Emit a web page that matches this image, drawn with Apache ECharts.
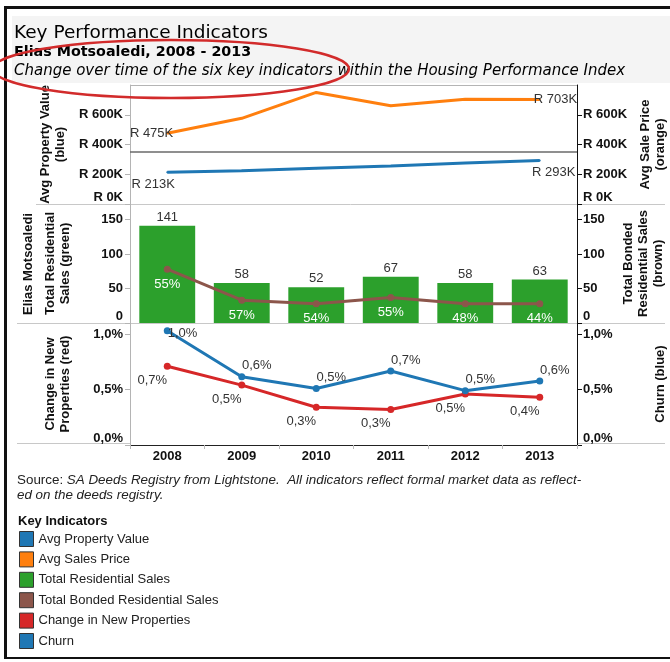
<!DOCTYPE html>
<html>
<head>
<meta charset="utf-8">
<script src="https://cdn.jsdelivr.net/npm/echarts@6/dist/echarts.min.js"></script>
<style>
  html, body { margin: 0; padding: 0; background: #fff; }
  #kpi { width: 670px; height: 662px; }
</style>
</head>
<body>
<div id="kpi"></div>
<script>
// Données
const years = ['2008', '2009', '2010', '2011', '2012', '2013'];
const avgPropertyValue = [213000, 224000, 240000, 255000, 276000, 293000];
const avgSalesPrice = [475000, 576000, 750000, 660000, 704000, 703000];
const totalSales = [141, 58, 52, 67, 58, 63];
const bondedSales = [78, 33, 28, 37, 28, 28];
const bondedShare = [55, 57, 54, 55, 48, 44];
const newPropertiesChange = [0.71, 0.54, 0.34, 0.32, 0.46, 0.43];
const churn = [1.03, 0.615, 0.51, 0.667, 0.49, 0.577];
const legendNames = ['Avg Property Value', 'Avg Sales Price', 'Total Residential Sales',
  'Total Bonded Residential Sales', 'Change in New Properties', 'Churn'];

const FONT = 'Liberation Sans, Arial, sans-serif';
const HEAD = 'DejaVu Sans, sans-serif';
const last = years.length - 1;

const money = v => 'R ' + Math.round(v / 1000) + 'K';
const pct = v => v.toFixed(1).replace('.', ',') + '%';

const chart = echarts.init(document.getElementById('kpi'), null, { renderer: 'canvas' });

// axe Y commun
function yAxis(grid, side, min, max, interval, fmt, name, gap, hideMax) {
  const right = side === 'right';
  return {
    type: 'value', gridIndex: grid, position: side, min: min, max: max, interval: interval,
    splitLine: { show: false },
    axisLine: { show: true, lineStyle: { color: right ? '#111' : '#b4b4b4', width: 1 } },
    axisTick: { show: true, length: 5, lineStyle: { color: right ? '#111' : '#b4b4b4' } },
    axisLabel: {
      fontFamily: FONT, fontSize: 13, fontWeight: 'bold', color: '#111',
      margin: right ? 6 : 7,
      showMaxLabel: !hideMax,
      verticalAlignMinLabel: 'bottom',
      formatter: v => (Math.abs(v / interval - Math.round(v / interval)) < 1e-6 ? fmt(v) : '')
    },
    name: name, nameLocation: 'middle', nameRotate: 90, nameGap: gap,
    nameTextStyle: { fontFamily: FONT, fontSize: 13, fontWeight: 'bold', color: '#111', lineHeight: 15 }
  };
}

function xAxis(grid, shown) {
  return {
    type: 'category', gridIndex: grid, data: years, boundaryGap: true,
    axisLine: { show: shown, lineStyle: { color: '#222' } },
    axisTick: { show: shown, length: 4, lineStyle: { color: '#bbb' } },
    axisLabel: { show: shown, fontFamily: FONT, fontSize: 13, fontWeight: 'bold', color: '#111', margin: 5 }
  };
}

const lbl = { fontFamily: FONT, fontSize: 13, color: '#333' };

const option = {
  animation: false,
  backgroundColor: '#fff',
  grid: [
    { left: 130, right: 93, top: 85, height: 119, outerBoundsMode: 'none', containLabel: false },
    { left: 130, right: 93, top: 204, height: 119, outerBoundsMode: 'none', containLabel: false },
    { left: 130, right: 93, top: 323, height: 122, outerBoundsMode: 'none', containLabel: false }
  ],
  xAxis: [xAxis(0, false), xAxis(1, false), xAxis(2, true)],
  yAxis: [
    yAxis(0, 'left', 0, 800000, 200000, money, 'Avg Property Value\n(blue)', 57, true),
    yAxis(0, 'right', 0, 800000, 200000, money, 'Avg Sale Price\n(orange)', 61, true),
    yAxis(1, 'left', 0, 172.5, 50, v => String(v), 'Total Residential\nSales (green)', 57),
    yAxis(1, 'right', 0, 172.5, 50, v => String(v), 'Total Bonded\nResidential Sales\n(brown)', 44),
    yAxis(2, 'left', 0, 1.1, 0.5, pct, 'Change in New\nProperties (red)', 57),
    yAxis(2, 'right', 0, 1.1, 0.5, pct, 'Churn (blue)', 76)
  ],
  legend: {
    orient: 'vertical', left: 19, top: 531, padding: 0,
    itemWidth: 14, itemHeight: 15, itemGap: 4.4, icon: 'rect',
    selectedMode: false,
    itemStyle: { borderColor: '#333', borderWidth: 1 },
    textStyle: { fontFamily: FONT, fontSize: 13, color: '#222' },
    data: legendNames
  },
  series: [
    {
      name: 'Avg Property Value', type: 'line', xAxisIndex: 0, yAxisIndex: 0,
      color: '#1f77b4', symbol: 'circle', symbolSize: 2,
      lineStyle: { width: 3 },
      data: avgPropertyValue.map((v, i) => ({
        value: v,
        label: i === 0 ? { show: true, position: 'bottom', distance: 5, offset: [-14, 0] }
             : i === last ? { show: true, position: 'bottom', distance: 5, offset: [14, 0] }
             : { show: false }
      })),
      label: Object.assign({ formatter: p => money(p.value) }, lbl),
      markLine: {
        silent: true, symbol: 'none', label: { show: false },
        lineStyle: { color: '#6a6a6a', type: 'solid', width: 1.5 },
        data: [{ yAxis: 350000 }]
      }
    },
    {
      name: 'Avg Sales Price', type: 'line', xAxisIndex: 0, yAxisIndex: 1,
      color: '#ff7f0e', symbol: 'circle', symbolSize: 2,
      lineStyle: { width: 3 },
      data: avgSalesPrice.map((v, i) => ({
        value: v,
        label: i === 0 ? { show: true, position: 'left', distance: 0, offset: [7, 0] }
             : i === last ? { show: true, position: 'right', distance: 0, offset: [-7, 0] }
             : { show: false }
      })),
      label: Object.assign({ formatter: p => money(p.value) }, lbl)
    },
    {
      name: 'Total Residential Sales', type: 'bar', xAxisIndex: 1, yAxisIndex: 2,
      color: '#2ca02c', barCategoryGap: '25%',
      label: Object.assign({ show: true, position: 'top', distance: 2 }, lbl),
      data: totalSales
    },
    {
      name: 'Total Bonded Residential Sales', type: 'line', xAxisIndex: 1, yAxisIndex: 3,
      color: '#8c564b', symbol: 'circle', symbolSize: 7,
      lineStyle: { width: 3 },
      label: { show: true, position: 'bottom', distance: 5, fontFamily: FONT, fontSize: 13, color: '#fff',
        formatter: p => bondedShare[p.dataIndex] + '%' },
      data: bondedSales
    },
    {
      name: 'Change in New Properties', type: 'line', xAxisIndex: 2, yAxisIndex: 4,
      color: '#d62728', symbol: 'circle', symbolSize: 7,
      lineStyle: { width: 3 },
      label: Object.assign({ show: true, position: 'bottom', distance: 4, offset: [-15, 0],
        formatter: p => pct(p.value) }, lbl),
      data: newPropertiesChange
    },
    {
      name: 'Churn', type: 'line', xAxisIndex: 2, yAxisIndex: 5,
      color: '#1f77b4', symbol: 'circle', symbolSize: 7,
      lineStyle: { width: 3 },
      label: Object.assign({ show: true, position: 'top', distance: 1, offset: [15, 0],
        formatter: p => pct(p.value) }, lbl),
      data: churn.map((v, i) => (i === 0
        ? { value: v, label: { position: 'right', distance: -3, offset: [0, 3] } }
        : v))
    }
  ],
  graphic: [
    // cadre
    { type: 'rect', shape: { x: 12, y: 16, width: 658, height: 67 }, style: { fill: '#f4f4f4' }, z: -1 },
    { type: 'line', shape: { x1: 4, y1: 7.5, x2: 670, y2: 7.5 }, style: { stroke: '#111', lineWidth: 3 } },
    { type: 'line', shape: { x1: 5.5, y1: 6, x2: 5.5, y2: 659 }, style: { stroke: '#111', lineWidth: 3 } },
    { type: 'line', shape: { x1: 4, y1: 658, x2: 670, y2: 658 }, style: { stroke: '#111', lineWidth: 2 } },
    // titres
    { type: 'text', left: 14, top: 24, style: { text: 'Key Performance Indicators', font: '18.5px ' + HEAD, fill: '#000' } },
    { type: 'text', left: 14, top: 45, style: { text: 'Elias Motsoaledi, 2008 - 2013', font: 'bold 14.3px ' + HEAD, fill: '#000' } },
    { type: 'text', left: 14, top: 64, style: { text: 'Change over time of the six key indicators within the Housing Performance Index', font: 'italic 15px ' + HEAD, fill: '#000' } },
    // séparateurs
    { type: 'line', shape: { x1: 130, y1: 85.5, x2: 577, y2: 85.5 }, style: { stroke: '#b4b4b4' } },
    { type: 'line', shape: { x1: 36, y1: 204.5, x2: 665, y2: 204.5 }, style: { stroke: '#c8c8c8' } },
    { type: 'line', shape: { x1: 17, y1: 323.5, x2: 665, y2: 323.5 }, style: { stroke: '#c8c8c8' } },
    { type: 'line', shape: { x1: 17, y1: 443.5, x2: 130, y2: 443.5 }, style: { stroke: '#c8c8c8' } },
    { type: 'line', shape: { x1: 577, y1: 443.5, x2: 665, y2: 443.5 }, style: { stroke: '#c8c8c8' } },
    // en-tête de ligne
    { type: 'text', x: 28, y: 264, rotation: Math.PI / 2,
      style: { text: 'Elias Motsoaledi', font: 'bold 13px ' + FONT, fill: '#111', align: 'center', verticalAlign: 'middle' } },
    // source
    { type: 'text', left: 17, top: 474, style: {
      text: '{r|Source: }{i|SA Deeds Registry from Lightstone.  All indicators reflect formal market data as reflect-}\n{i|ed on the deeds registry.}',
      rich: {
        r: { fontFamily: FONT, fontSize: 13.4, fill: '#222', lineHeight: 15 },
        i: { fontFamily: FONT, fontSize: 13.4, fontStyle: 'italic', fill: '#222', lineHeight: 15 }
      } } },
    { type: 'text', left: 18, top: 515, style: { text: 'Key Indicators', font: 'bold 13px ' + FONT, fill: '#111' } },
    // annotation rouge
    { type: 'ellipse', shape: { cx: 171, cy: 69, rx: 178, ry: 29 }, z: 100,
      style: { fill: null, stroke: '#d22b2b', lineWidth: 2.5 } }
  ]
};

chart.setOption(option);

window.addEventListener('resize', () => {
  chart.resize();
});
</script>
</body>
</html>
